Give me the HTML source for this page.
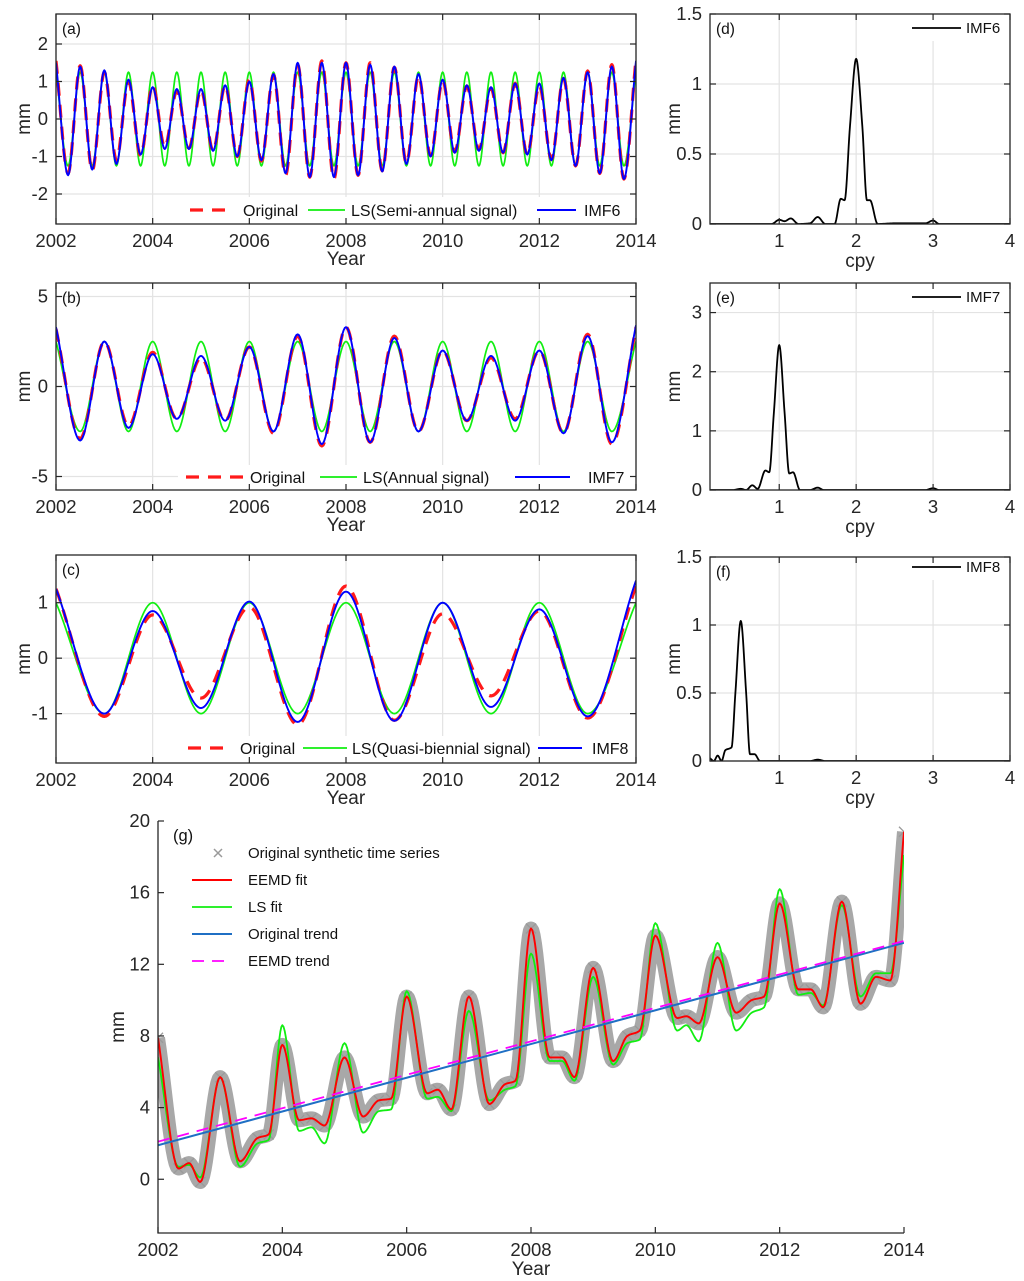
<!DOCTYPE html>
<html><head><meta charset="utf-8"><title>EEMD figure</title>
<style>
html,body{margin:0;padding:0;background:#fff;}
svg{display:block;font-family:"Liberation Sans",Arial,sans-serif;}
</style></head>
<body>
<svg id="fig" width="1024" height="1281" viewBox="0 0 1024 1281" xmlns="http://www.w3.org/2000/svg"></svg>
<script>
// ---------- DATA ----------
const semiYears = Array.from({length:49},(_, k)=>2002+0.25*k);
const semiImf = [1.5,-1.5,1.4,-1.35,1.3,-1.2,1.05,-0.95,0.85,-0.8,0.8,-0.8,0.8,-0.85,0.9,-1.0,1.0,-1.1,1.2,-1.45,1.5,-1.55,1.5,-1.55,1.5,-1.5,1.45,-1.4,1.4,-1.2,1.2,-1.0,1.05,-0.9,0.9,-0.85,0.85,-0.9,0.95,-0.95,0.95,-1.1,1.1,-1.25,1.25,-1.45,1.4,-1.6,1.55];
const semiOrig = [1.55,-1.45,1.42,-1.38,1.25,-1.1,1.0,-0.98,0.9,-0.75,0.75,-0.78,0.78,-0.85,0.9,-1.0,1.05,-1.12,1.18,-1.5,1.45,-1.55,1.55,-1.6,1.5,-1.5,1.5,-1.38,1.38,-1.18,1.15,-0.98,1.02,-0.88,0.88,-0.82,0.82,-0.9,0.95,-0.95,0.9,-1.08,1.08,-1.25,1.28,-1.45,1.45,-1.6,1.6];
const semiLS = [1.25,-1.25,1.25,-1.25,1.25,-1.25,1.25,-1.25,1.25,-1.25,1.25,-1.25,1.25,-1.25,1.25,-1.25,1.25,-1.25,1.25,-1.25,1.25,-1.25,1.25,-1.25,1.25,-1.25,1.25,-1.25,1.25,-1.25,1.25,-1.25,1.25,-1.25,1.25,-1.25,1.25,-1.25,1.25,-1.25,1.25,-1.25,1.25,-1.25,1.25,-1.25,1.25,-1.25,1.25];
const annYears = Array.from({length:25},(_, k)=>2002+0.5*k);
const annImf = [3.3,-3.0,2.5,-2.3,1.8,-1.8,1.7,-1.9,2.2,-2.5,2.9,-3.2,3.3,-3.1,2.7,-2.5,2.0,-1.9,1.7,-1.9,2.0,-2.6,2.8,-3.1,3.4];
const annOrig = [3.2,-2.9,2.5,-2.2,1.9,-1.8,1.6,-1.9,2.2,-2.6,2.8,-3.3,3.3,-3.1,2.8,-2.5,2.0,-1.9,1.6,-1.8,2.0,-2.6,2.9,-3.2,3.3];
const annLS = [2.5,-2.5,2.5,-2.5,2.5,-2.5,2.5,-2.5,2.5,-2.5,2.5,-2.5,2.5,-2.5,2.5,-2.5,2.5,-2.5,2.5,-2.5,2.5,-2.5,2.5,-2.5,2.5];
const qbYears = [2002,2003,2004,2005,2006,2007,2008,2009,2010,2011,2012,2013,2014];
const qbImf = [1.25,-1.0,0.85,-0.9,1.02,-1.15,1.2,-1.13,1.0,-0.88,0.88,-1.05,1.4];
const qbOrig = [1.25,-1.05,0.78,-0.72,0.92,-1.2,1.3,-1.12,0.8,-0.68,0.85,-1.08,1.3];
const qbLS = [1,-1,1,-1,1,-1,1,-1,1,-1,1,-1,1];
const specDf = [0.1,0.9,1.0,1.07,1.15,1.25,1.4,1.5,1.6,1.72,1.8,1.85,1.92,2.0,2.08,2.14,2.18,2.28,2.5,2.9,3.0,3.08,4.0];
const specDa = [0,0,0.03,0.02,0.04,0,0.005,0.05,0,0,0.18,0.17,0.7,1.18,0.7,0.17,0.17,0,0.005,0.005,0.025,0,0];
const specEf = [0.1,0.4,0.5,0.57,0.65,0.72,0.82,0.87,0.93,1.0,1.07,1.13,1.18,1.27,1.4,1.5,1.58,2.9,3.0,3.08,4.0];
const specEa = [0,0,0.02,0,0.08,0.02,0.33,0.3,1.3,2.45,1.3,0.28,0.3,0,0,0.04,0,0,0.03,0,0];
const specFf = [0.1,0.15,0.2,0.25,0.3,0.38,0.43,0.5,0.57,0.62,0.68,0.75,1.4,1.5,1.6,4.0];
const specFa = [0.02,0,0.04,0,0.08,0.1,0.5,1.03,0.5,0.05,0.05,0,0,0.01,0,0];
const gYears = [2002.0,2002.33,2002.5,2002.68,2003.0,2003.32,2003.6,2003.78,2004.0,2004.27,2004.47,2004.68,2005.0,2005.3,2005.55,2005.75,2006.0,2006.33,2006.5,2006.72,2007.0,2007.33,2007.58,2007.75,2008.0,2008.3,2008.5,2008.7,2009.0,2009.32,2009.55,2009.75,2010.0,2010.35,2010.5,2010.7,2011.0,2011.3,2011.55,2011.75,2012.0,2012.3,2012.5,2012.7,2013.0,2013.3,2013.55,2013.78,2014.0];
const gEemd = [7.9,0.6,0.9,-0.15,5.7,1.0,2.3,2.5,7.5,3.3,3.4,3.0,6.8,3.5,4.4,4.5,10.2,4.8,5.0,3.9,10.2,4.2,5.3,5.5,14.0,6.8,6.8,5.7,11.8,6.6,8.0,8.3,13.6,9.0,9.1,8.7,12.4,9.3,10.0,10.2,15.4,10.6,10.6,9.6,15.5,9.8,11.3,11.1,19.4];
const gLS = [6.8,0.7,0.8,0.1,5.7,0.7,2.0,2.2,8.6,2.7,2.9,2.0,7.6,2.6,3.8,3.9,10.5,4.5,4.6,3.8,9.4,4.4,5.0,5.2,12.6,6.6,6.6,5.5,11.3,6.4,7.6,7.8,14.3,8.3,8.6,7.7,13.2,8.3,9.3,9.6,16.2,10.3,10.4,9.7,15.3,10.2,11.5,11.5,18.1];
const trendYears = [2002,2014];
const trendOrig = [1.9,13.2];
const trendEemd = [2.1,13.3];

// ---------- HELPERS ----------
const NS="http://www.w3.org/2000/svg";
const svg=document.getElementById('fig');
function mk(tag,attrs,parent){const e=document.createElementNS(NS,tag);for(const k in attrs)e.setAttribute(k,attrs[k]);(parent||svg).appendChild(e);return e;}
function monotone(xs,ys,n){
  const m=xs.length,d=[],t=[];
  for(let i=0;i<m-1;i++)d.push((ys[i+1]-ys[i])/(xs[i+1]-xs[i]));
  for(let i=0;i<m;i++){
    if(i===0)t.push(d[0]);else if(i===m-1)t.push(d[m-2]);
    else if(d[i-1]*d[i]<=0)t.push(0);else t.push(2/(1/d[i-1]+1/d[i]));
  }
  const pts=[];
  for(let i=0;i<m-1;i++){
    const h=xs[i+1]-xs[i];
    for(let j=0;j<n;j++){
      const s=j/n,s2=s*s,s3=s2*s;
      const y=(2*s3-3*s2+1)*ys[i]+(s3-2*s2+s)*h*t[i]+(-2*s3+3*s2)*ys[i+1]+(s3-s2)*h*t[i+1];
      pts.push([xs[i]+s*h,y]);
    }
  }
  pts.push([xs[m-1],ys[m-1]]);
  return pts;
}
let clipId=0;
function panel(cfg){
  const g=mk('g',{});
  
  
  const sx=v=>cfg.x0+(v-cfg.xmin)/(cfg.xmax-cfg.xmin)*(cfg.x1-cfg.x0);
  const sy=v=>cfg.y1-(v-cfg.ymin)/(cfg.ymax-cfg.ymin)*(cfg.y1-cfg.y0);
  const id='clip'+(clipId++);
  const cp=mk('clipPath',{id:id},g);
  mk('rect',{x:cfg.x0,y:cfg.y0,width:cfg.x1-cfg.x0,height:cfg.y1-cfg.y0},cp);
  if(cfg.grid){
    cfg.xticks.forEach(v=>{const l=mk('line',{x1:sx(v),x2:sx(v),y1:cfg.y0,y2:cfg.y1,stroke:'#e3e3e3','stroke-width':1.2},g);
      });
    cfg.yticks.forEach(v=>{const l=mk('line',{x1:cfg.x0,x2:cfg.x1,y1:sy(v),y2:sy(v),stroke:'#e3e3e3','stroke-width':1.2},g);
      });
  }
  const plot=mk('g',{'clip-path':'url(#'+id+')'},g);
  return {g,sx,sy,plot,cfg};
}
function axes(P,opts){
  const c=P.cfg,g=P.g;
  const col='#262626';
  if(opts.box){
    const r=mk('rect',{x:c.x0,y:c.y0,width:c.x1-c.x0,height:c.y1-c.y0,fill:'none',stroke:col,'stroke-width':1.3},g);
    
  } else {
    const a=mk('path',{d:`M${c.x0},${c.y0}V${c.y1}H${c.x1}`,fill:'none',stroke:col,'stroke-width':1.3},g);
    
  }
  c.xticks.forEach((v,i)=>{
    const x=P.sx(v);
    mk('line',{x1:x,x2:x,y1:c.y1,y2:c.y1-6,stroke:col,'stroke-width':1.2},g);
    if(opts.box)mk('line',{x1:x,x2:x,y1:c.y0,y2:c.y0+6,stroke:col,'stroke-width':1.2},g);
    const t=mk('text',{x:x,y:c.y1+opts.xlabOff,'text-anchor':'middle','font-size':opts.fs,fill:col},g);
    t.textContent=c.xlabels[i];
    
  });
  c.yticks.forEach((v,i)=>{
    const y=P.sy(v);
    mk('line',{x1:c.x0,x2:c.x0+6,y1:y,y2:y,stroke:col,'stroke-width':1.2},g);
    if(opts.box)mk('line',{x1:c.x1,x2:c.x1-6,y1:y,y2:y,stroke:col,'stroke-width':1.2},g);
    const t=mk('text',{x:c.x0-8,y:y+6,'text-anchor':'end','font-size':opts.fs,fill:col},g);
    t.textContent=c.ylabels[i];
    
  });
  const xt=mk('text',{x:(c.x0+c.x1)/2,y:c.y1+opts.xtitleOff,'text-anchor':'middle','font-size':opts.tfs,fill:col},g);
  xt.textContent=opts.xtitle;
  
  const yx=opts.ytitleX, yy=(c.y0+c.y1)/2;
  const yt=mk('text',{x:yx,y:yy,'text-anchor':'middle','font-size':opts.tfs,fill:col,transform:`rotate(-90 ${yx} ${yy})`},g);
  yt.textContent='mm';
  
  const pl=mk('text',{x:c.x0+6,y:c.y0+20,'font-size':15.5,fill:'#111'},g);
  pl.textContent=opts.tag;
  
}
function curve(P,xs,ys,n,style,name){
  const pts=monotone(xs,ys,n);
  const d='M'+pts.map(p=>P.sx(p[0]).toFixed(2)+','+P.sy(p[1]).toFixed(2)).join('L');
  const attrs=Object.assign({d:d,fill:'none','stroke-linejoin':'round'},style);
  const p=mk('path',attrs,P.plot);
  
  
  return p;
}
const RED={stroke:'#ff1a1a','stroke-width':3.2,'stroke-dasharray':'13 9'};
const GREEN={stroke:'#11ee11','stroke-width':1.7};
const BLUE={stroke:'#0000ff','stroke-width':1.9};
const BLACK={stroke:'#000','stroke-width':1.8};

function tsLegend(P,y,top,items){
  const c=P.cfg;
  const bg=mk('rect',{x:items[0].x0-8,y:top,width:c.x1-items[0].x0+8-1,height:c.y1-top-1,fill:'#fff'},P.g);
  
  items.forEach(it=>{
    const l=mk('line',Object.assign({x1:it.x0,x2:it.x1,y1:y,y2:y},it.style),P.g);
    
    const t=mk('text',{x:it.tx,y:y+6,'font-size':16,fill:'#111'},P.g);
    t.textContent=it.label;
    
  });
}
const yearTicks=[2002,2004,2006,2008,2010,2012,2014];
const yearLabels=['2002','2004','2006','2008','2010','2012','2014'];
const tsOpts={box:true,fs:18.5,tfs:19,xlabOff:23,xtitleOff:41,ytitleX:30};

// ---------- (a) ----------
{
const P=panel({name:'panel-a',x0:56,x1:636,y0:14,y1:224,xmin:2002,xmax:2014,ymin:-2.8,ymax:2.8,grid:true,
  xticks:yearTicks,xlabels:yearLabels,yticks:[-2,-1,0,1,2],ylabels:['-2','-1','0','1','2']});
curve(P,semiYears,semiLS,16,GREEN,'ls-semiannual-line');
curve(P,semiYears,semiOrig,16,RED,'original-semiannual-line');
curve(P,semiYears,semiImf,16,BLUE,'imf6-line');
tsLegend(P,210,197,[
 {x0:190,x1:232,tx:243,label:'Original',style:RED},
 {x0:308,x1:345,tx:351,label:'LS(Semi-annual signal)',style:GREEN},
 {x0:537,x1:576,tx:584,label:'IMF6',style:BLUE}]);
axes(P,Object.assign({xtitle:'Year',tag:'(a)'},tsOpts));
}
// ---------- (b) ----------
{
const P=panel({name:'panel-b',x0:56,x1:636,y0:283,y1:490,xmin:2002,xmax:2014,ymin:-5.75,ymax:5.75,grid:true,
  xticks:yearTicks,xlabels:yearLabels,yticks:[-5,0,5],ylabels:['-5','0','5']});
curve(P,annYears,annLS,20,GREEN,'ls-annual-line');
curve(P,annYears,annOrig,20,RED,'original-annual-line');
curve(P,annYears,annImf,20,BLUE,'imf7-line');
tsLegend(P,477,465,[
 {x0:186,x1:244,tx:250,label:'Original',style:RED},
 {x0:320,x1:357,tx:363,label:'LS(Annual signal)',style:GREEN},
 {x0:515,x1:570,tx:588,label:'IMF7',style:BLUE}]);
axes(P,Object.assign({xtitle:'Year',tag:'(b)'},tsOpts));
}
// ---------- (c) ----------
{
const P=panel({name:'panel-c',x0:56,x1:636,y0:555,y1:763,xmin:2002,xmax:2014,ymin:-1.89,ymax:1.86,grid:true,
  xticks:yearTicks,xlabels:yearLabels,yticks:[-1,0,1],ylabels:['-1','0','1']});
curve(P,qbYears,qbLS,30,GREEN,'ls-biennial-line');
curve(P,qbYears,qbOrig,30,RED,'original-biennial-line');
curve(P,qbYears,qbImf,30,BLUE,'imf8-line');
tsLegend(P,748,736,[
 {x0:188,x1:230,tx:240,label:'Original',style:RED},
 {x0:303,x1:347,tx:352,label:'LS(Quasi-biennial signal)',style:GREEN},
 {x0:538,x1:582,tx:592,label:'IMF8',style:BLUE}]);
axes(P,Object.assign({xtitle:'Year',tag:'(c)'},tsOpts));
}
// ---------- spectra ----------
function specPanel(name,tag,y0,y1,ymax,yt,yl,fs,as,label,legY){
  const P=panel({name:name,x0:710,x1:1010,y0:y0,y1:y1,xmin:0.1,xmax:4,ymin:0,ymax:ymax,grid:true,
    xticks:[1,2,3,4],xlabels:['1','2','3','4'],yticks:yt,ylabels:yl});
  const bg=mk('rect',{x:905,y:y0+1,width:104,height:legY-y0+12,fill:'#fff'},P.g);
  
  curve(P,fs,as,12,BLACK,'spectrum-line');
  const l=mk('line',{x1:912,x2:961,y1:legY,y2:legY,stroke:'#000','stroke-width':1.8},P.g);
  
  const t=mk('text',{x:966,y:legY+5,'font-size':15,fill:'#111'},P.g);
  t.textContent=label;
  
  axes(P,{box:true,fs:18.5,tfs:19,xlabOff:23,xtitleOff:43,ytitleX:680,xtitle:'cpy',tag:tag});
}
specPanel('panel-d','(d)',14,224,1.5,[0,0.5,1,1.5],['0','0.5','1','1.5'],specDf,specDa,'IMF6',28);
specPanel('panel-e','(e)',283,490,3.5,[0,1,2,3],['0','1','2','3'],specEf,specEa,'IMF7',297);
specPanel('panel-f','(f)',557,761,1.5,[0,0.5,1,1.5],['0','0.5','1','1.5'],specFf,specFa,'IMF8',567);

// ---------- (g) ----------
{
const P=panel({name:'panel-g',x0:158,x1:904,y0:821,y1:1233,xmin:2002,xmax:2014,ymin:-3,ymax:20,grid:false,
  xticks:yearTicks,xlabels:yearLabels,yticks:[0,4,8,12,16,20],ylabels:['0','4','8','12','16','20']});
curve(P,gYears,gEemd,14,{stroke:'#a8a8a8','stroke-width':14},'original-series-band');
gYears.forEach((v,i)=>{
  const x=P.sx(v),y=P.sy(gEemd[i]);
  const m=mk('path',{d:`M${x-5},${y-5}L${x+5},${y+5}M${x-5},${y+5}L${x+5},${y-5}`,stroke:'#9a9a9a','stroke-width':1.3},P.plot);
  
});
curve(P,gYears,gLS,14,{stroke:'#11ee11','stroke-width':1.8},'ls-fit-line');
curve(P,gYears,gEemd,14,{stroke:'#ff0000','stroke-width':1.9},'eemd-fit-line');
const tl=mk('line',{x1:P.sx(trendYears[0]),y1:P.sy(trendOrig[0]),x2:P.sx(trendYears[1]),y2:P.sy(trendOrig[1]),stroke:'#1f6fc4','stroke-width':2},P.plot);

const te=mk('line',{x1:P.sx(trendYears[0]),y1:P.sy(trendEemd[0]),x2:P.sx(trendYears[1]),y2:P.sy(trendEemd[1]),stroke:'#ff00ff','stroke-width':1.8,'stroke-dasharray':'12 8'},P.plot);

axes(P,{box:false,fs:18.5,tfs:19,xlabOff:23,xtitleOff:42,ytitleX:124,xtitle:'Year',tag:''});
const pg=mk('text',{x:173,y:841,'font-size':16.5,fill:'#111'},P.g);
pg.textContent='(g)';

const lg=[
 {y:853,label:'Original synthetic time series',style:null},
 {y:880,label:'EEMD fit',style:{stroke:'#ff0000','stroke-width':1.9}},
 {y:907,label:'LS fit',style:{stroke:'#11ee11','stroke-width':1.8}},
 {y:934,label:'Original trend',style:{stroke:'#1f6fc4','stroke-width':2}},
 {y:961,label:'EEMD trend',style:{stroke:'#ff00ff','stroke-width':1.8,'stroke-dasharray':'12 8'}}];
lg.forEach(it=>{
  if(it.style){
    const l=mk('line',Object.assign({x1:192,x2:232,y1:it.y,y2:it.y},it.style),P.g);
    
  } else {
    const m=mk('path',{d:`M${214},${it.y-4}L${222},${it.y+4}M${214},${it.y+4}L${222},${it.y-4}`,stroke:'#9a9a9a','stroke-width':1.5},P.g);
    
  }
  const t=mk('text',{x:248,y:it.y+5,'font-size':15,fill:'#111'},P.g);
  t.textContent=it.label;
  
});
}
</script>
</body></html>
